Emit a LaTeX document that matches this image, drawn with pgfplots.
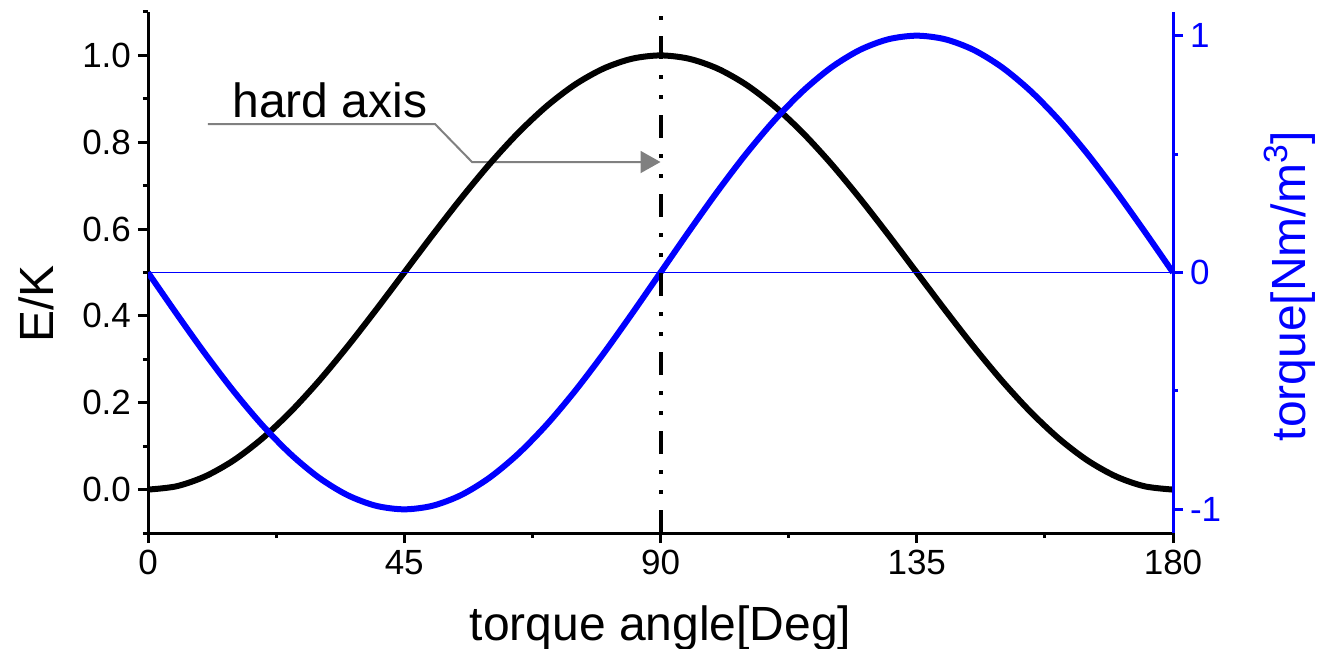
\documentclass[border=0pt]{standalone}
\usepackage{fontspec}
\setmainfont{Liberation Sans}
\usepackage{pgfplots}
\pgfplotsset{compat=1.18}
\usetikzlibrary{arrows.meta}
\definecolor{annogray}{RGB}{128,128,128}

\pgfplotstableread{
ang   ek      tq
0     0.0000  0.0000
5     0.0076  -0.1736
10    0.0302  -0.3420
15    0.0670  -0.5000
20    0.1170  -0.6428
25    0.1786  -0.7660
30    0.2500  -0.8660
35    0.3290  -0.9397
40    0.4132  -0.9848
45    0.5000  -1.0000
50    0.5868  -0.9848
55    0.6710  -0.9397
60    0.7500  -0.8660
65    0.8214  -0.7660
70    0.8830  -0.6428
75    0.9330  -0.5000
80    0.9698  -0.3420
85    0.9924  -0.1736
90    1.0000  0.0000
95    0.9924  0.1736
100   0.9698  0.3420
105   0.9330  0.5000
110   0.8830  0.6428
115   0.8214  0.7660
120   0.7500  0.8660
125   0.6710  0.9397
130   0.5868  0.9848
135   0.5000  1.0000
140   0.4132  0.9848
145   0.3290  0.9397
150   0.2500  0.8660
155   0.1786  0.7660
160   0.1170  0.6428
165   0.0670  0.5000
170   0.0302  0.3420
175   0.0076  0.1736
180   0.0000  0.0000
}\curves

\pgfplotsset{
  common/.style={
    width=512.5pt, height=260.5pt, scale only axis,
    xmin=0, xmax=180,
    tick align=outside,
    major tick length=5pt, minor tick length=2.5pt,
    every tick/.style={line width=1.5pt},
    tick label style={font=\fontsize{17.5}{20}\selectfont},
    label style={font=\fontsize{24}{28}\selectfont},
  }
}

\begin{document}
\begin{tikzpicture}
\begin{axis}[common, name=ax,
  axis x line*=bottom, axis y line*=left,
  x axis line style={-, line width=1.5pt},
  y axis line style={-, line width=1.5pt},
  ymin=-0.1, ymax=1.1,
  xtick={0,45,90,135,180}, xticklabels={0,45,90,135,180},
  minor xtick={22.5,67.5,112.5,157.5},
  ytick={0,0.2,0.4,0.6,0.8,1.0},
  yticklabels={0.0,0.2,0.4,0.6,0.8,1.0},
  minor ytick={-0.1,0.1,0.3,0.5,0.7,0.9,1.1},
  xlabel={torque angle[Deg]},
  xlabel style={at={(axis description cs:0.5,0)}, anchor=base, yshift=-53.5pt},
  ylabel={E/K},
  ylabel style={at={(axis description cs:-0.1093,0.44)}, anchor=center},
]
\draw[annogray, line width=1pt, -{Triangle[length=10pt,width=11pt]}]
  (axis cs:10.5,0.842) -- (axis cs:50.4,0.842) -- (axis cs:56.9,0.7545) -- (axis cs:90,0.7545);
\node[anchor=base west, inner sep=0pt, font=\fontsize{24}{28}\selectfont]
  at (axis cs:14.75,0.858) {hard axis};
\addplot[black, line width=3pt, smooth] table[x=ang, y=ek] {\curves};
\end{axis}

\begin{axis}[common,
  axis x line=none, axis y line*=right,
  y axis line style={-, line width=1.5pt, blue},
  ymin=-1.1, ymax=1.1,
  ytick={-1,0,1}, yticklabels={-1,0,1},
  minor ytick={-0.5,0.5},
  every tick/.append style={blue},
  yticklabel style={blue},
  ylabel={torque[Nm/m\textsuperscript{3}]},
  ylabel style={blue, at={(axis description cs:1.1141,0.474)}, anchor=center},
]
\addplot[blue, line width=3pt, smooth] table[x=ang, y=tq] {\curves};
\addplot[blue, line width=0.8pt] coordinates {(0,0) (180,0)};
\addplot[black, line width=2pt,
  dash pattern=on 11.5pt off 8pt on 2pt off 8pt on 2pt off 8pt]
  coordinates {(90,-1.1) (90,1.1)};
\end{axis}

\pgfresetboundingbox
\useasboundingbox ([shift={(-74pt,-57.5pt)}]ax.south west) rectangle ([shift={(73pt,6pt)}]ax.north east);
\end{tikzpicture}
\end{document}
